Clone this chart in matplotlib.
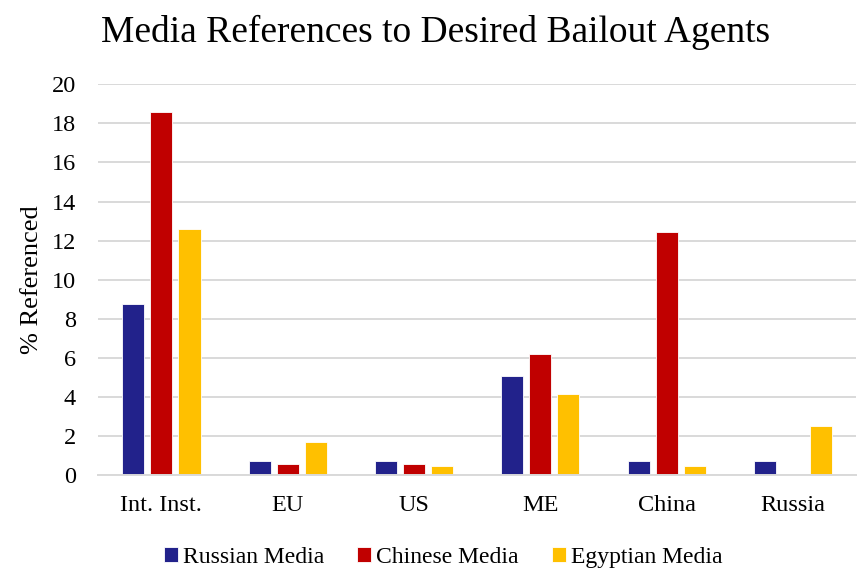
import matplotlib
matplotlib.use("Agg")
import matplotlib.pyplot as plt
import numpy as np

categories = ["Int. Inst.", "EU", "US", "ME", "China", "Russia"]
russian = [8.77, 0.75, 0.75, 5.09, 0.75, 0.75]
chinese = [18.57, 0.6, 0.6, 6.2, 12.45, 0.0]
egyptian = [12.58, 1.71, 0.48, 4.16, 0.48, 2.52]

plt.rcParams["font.family"] = ["Liberation Serif", "DejaVu Serif"]

fig = plt.figure(figsize=(8.66, 5.77), dpi=100)
ax = fig.add_axes([0.1135, 0.176, 0.875, 0.678])
ax.set_axisbelow(True)

x = np.arange(len(categories))
width = 0.175
step = 0.222

def add_bar(offset, yval, label, color):
    ax.bar(x + offset, yval, width=width, color=color, label=label,
           edgecolor="white", linewidth=0.6)

add_bar(-step, russian, "Russian Media", "#22228b")
add_bar(0, chinese, "Chinese Media", "#c00000")
add_bar(step, egyptian, "Egyptian Media", "#ffc000")

ax.set_xlim(-0.5, len(categories) - 0.5)
ax.set_ylim(0, 20)
ax.set_yticks(np.arange(0, 21, 2))
ax.set_xticks(x, categories)
ax.tick_params(axis="both", length=0, labelsize=17.5, colors="black")
ax.tick_params(axis="x", pad=14)
ax.tick_params(axis="y", pad=16)
ax.grid(axis="y", color="#d9d9d9", linewidth=1.4)
for s in ["top", "right", "left"]:
    ax.spines[s].set_visible(False)
ax.spines["bottom"].set_color("#d9d9d9")
ax.spines["bottom"].set_linewidth(1.4)

ax.set_ylabel("% Referenced", fontsize=19, labelpad=6)
fig.suptitle("Media References to Desired Bailout Agents", fontsize=27,
             x=0.503, y=0.975)

ax.legend(loc="lower center", bbox_to_anchor=(0.455, -0.29), ncol=3,
          frameon=False, fontsize=17, handlelength=0.6, handleheight=0.6,
          handletextpad=0.2, columnspacing=1.4)

fig.savefig("out.png", dpi=100)
